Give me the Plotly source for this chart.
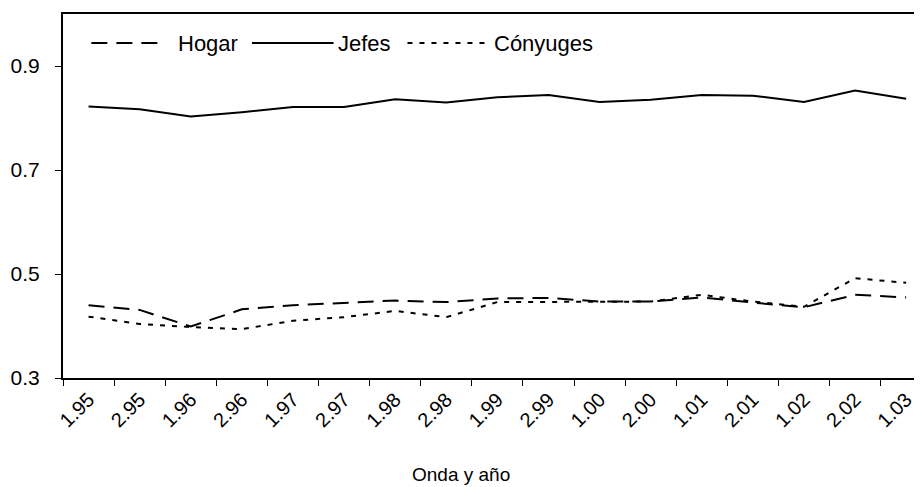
# -*- coding: utf-8 -*-
"""Tasa de participacion por onda y año: hogar, jefes y cónyuges"""

import plotly.graph_objects as go  # importing plotly for plotting figures

#%% DATA

ondas = ["1.95", "2.95", "1.96", "2.96", "1.97", "2.97", "1.98", "2.98", "1.99",
         "2.99", "1.00", "2.00", "1.01", "2.01", "1.02", "2.02", "1.03"]

hogar = [0.440, 0.431, 0.399, 0.432, 0.440, 0.445, 0.449, 0.446, 0.453,
         0.454, 0.447, 0.447, 0.455, 0.445, 0.436, 0.460, 0.455]

jefes = [0.822, 0.817, 0.803, 0.811, 0.821, 0.821, 0.836, 0.830, 0.840,
         0.844, 0.831, 0.835, 0.844, 0.843, 0.831, 0.853, 0.837]

conyuges = [0.418, 0.404, 0.398, 0.394, 0.410, 0.417, 0.429, 0.417, 0.446,
            0.446, 0.446, 0.447, 0.460, 0.447, 0.437, 0.492, 0.483]

y_ticks = [0.3, 0.5, 0.7, 0.9]

series = [
    ("Hogar", hogar, "16px,9px"),
    ("Jefes", jefes, "solid"),
    ("Cónyuges", conyuges, "5px,7px"),
]

FONT = "Liberation Sans, Arial, sans-serif"

#%% FIGURE

fig = go.Figure()

for name, vals, dash in series:
    fig.add_trace(go.Scatter(
        x=ondas,
        y=vals,
        name=name,
        mode="lines",
        line=dict(color="black", width=2, dash=dash),
        showlegend=False,
    ))

# hand made legend (the sample lines are longer than plotly's)
leg_items = [
    # name, dash, line start, line end, text x  (paper coords)
    ("Hogar", "16px,9px", 0.033, 0.117, 0.131),
    ("Jefes", "solid", 0.220, 0.315, 0.318),
    ("Cónyuges", "5px,7px", 0.401, 0.497, 0.499),
]
leg_y = 0.92
for name, dash, x0, x1, xt in leg_items:
    fig.add_shape(type="line", xref="paper", yref="paper",
                  x0=x0, x1=x1, y0=leg_y, y1=leg_y,
                  line=dict(color="black", width=2, dash=dash))
    fig.add_annotation(text=name, xref="paper", yref="paper",
                       x=xt, y=leg_y, xanchor="left", yanchor="middle",
                       showarrow=False, font=dict(size=22, color="black"))

# axis title as annotation
fig.add_annotation(text="Onda y año", xref="paper", yref="paper",
                   x=0.463, y=-0.265, xanchor="center", yanchor="middle",
                   showarrow=False, font=dict(size=19, color="black"))

# page body has an 8px margin, so the figure is 8px smaller than the window
fig.update_layout(
    width=914,
    height=479,
    margin=dict(l=55, r=0, t=6, b=109),
    paper_bgcolor="white",
    plot_bgcolor="white",
    font=dict(family=FONT, size=20, color="black"),
    showlegend=False,
)

fig.update_xaxes(
    type="category",
    range=[-0.5, 16.31],
    tickson="boundaries",
    ticks="outside",
    ticklen=6,
    tickwidth=1,
    tickcolor="black",
    tickangle=-45,
    tickfont=dict(size=20),
    showline=True,
    linecolor="black",
    linewidth=2,
    mirror=True,
    showgrid=False,
    zeroline=False,
)

fig.update_yaxes(
    range=[0.3, 1.0],
    tickvals=y_ticks,
    ticktext=[f"{v:.1f}" for v in y_ticks],
    ticks="outside",
    ticklen=6,
    tickwidth=1,
    tickcolor="black",
    ticklabelstandoff=11,
    tickfont=dict(size=21),
    showline=True,
    linecolor="black",
    linewidth=2,
    showgrid=False,
    zeroline=False,
)

fig.write_html("out.html")
